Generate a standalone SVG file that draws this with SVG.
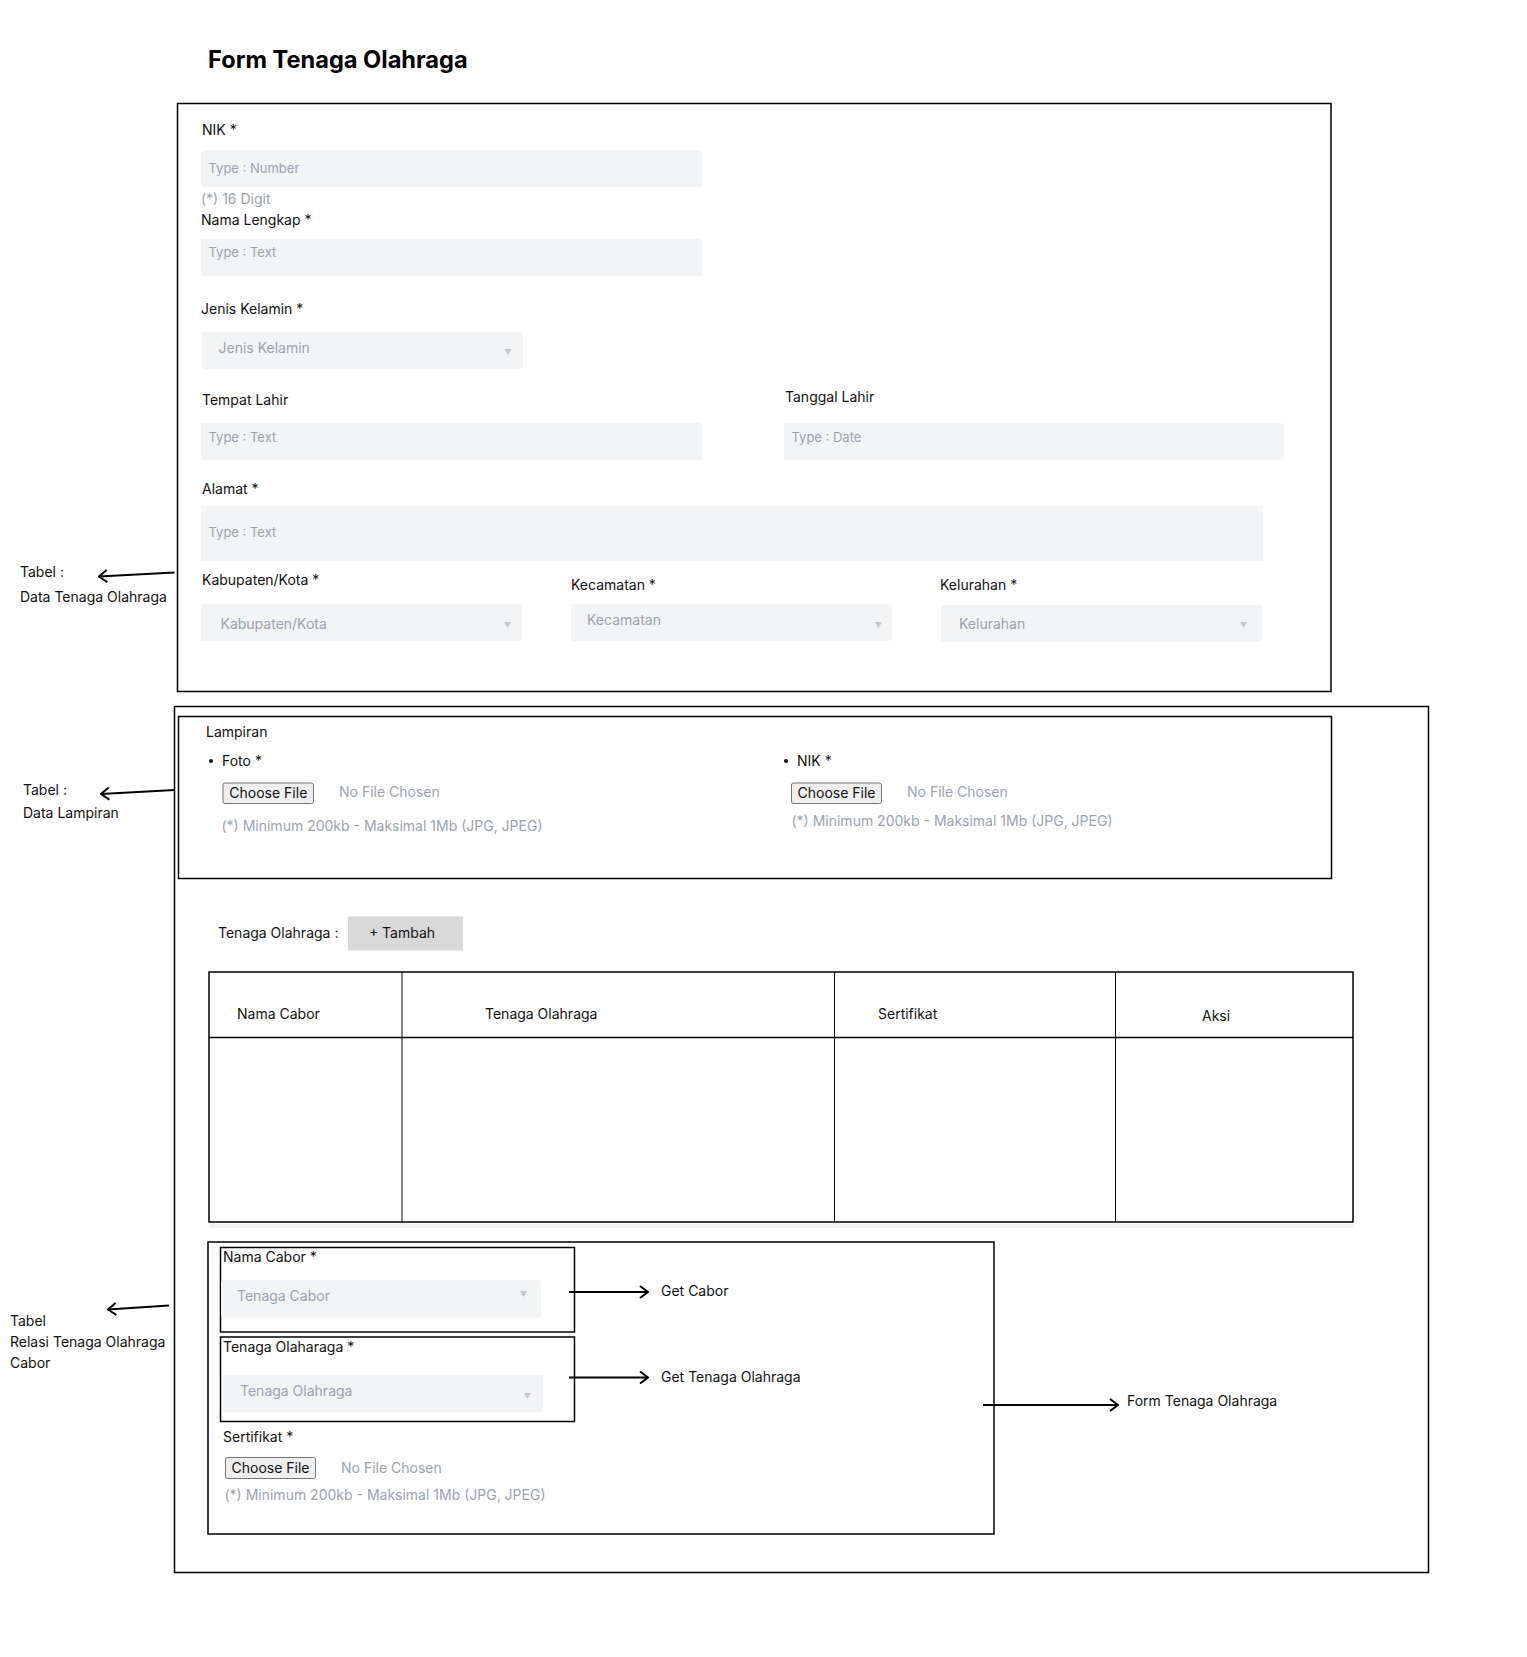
<svg xmlns="http://www.w3.org/2000/svg" width="1527" height="1657" viewBox="0 0 1527 1657">
<style>
text{font-family:Inter,"Noto Sans","Liberation Sans",sans-serif;}
.lbl{font-size:14px;fill:#111;}
.ph{font-size:13px;fill:#9ca3af;}
.sel{font-size:14px;fill:#9ca3af;}
.hint{font-size:14px;fill:#9ca3af;}
.ann{font-size:14px;fill:#111;}
.inp{fill:#f3f4f6;}
.box{fill:none;stroke:#000;stroke-width:1.5;}
.btn{fill:#efefef;stroke:#767676;stroke-width:1;}
.btxt{font-size:14px;fill:#111;text-anchor:middle;}
.caret{fill:#c4c6ca;}
.conn{stroke:#000;stroke-width:2;fill:none;}
.thin{stroke:#000;stroke-width:1;}
</style>
<defs>
<marker id="chev" viewBox="0 0 10 14" refX="9" refY="7" markerWidth="10" markerHeight="14" markerUnits="userSpaceOnUse" orient="auto">
<path d="M1,1 L9,7 L1,13" fill="none" stroke="#000" stroke-width="2"/>
</marker>
</defs>
<rect width="1527" height="1657" fill="#fff"/>

<g id="title">
<text x="208" y="68" style="font-size:23.6px;font-weight:700;fill:#000">Form Tenaga Olahraga</text>
</g>

<g id="form-data-tenaga">
<rect class="box" x="177.5" y="103.5" width="1153.5" height="588"/>
<text class="lbl" x="202" y="135">NIK *</text>
<rect class="inp" x="201" y="150" width="501" height="37" rx="3"/>
<text class="ph" x="208.5" y="173">Type : Number</text>
<text class="hint" x="201" y="204">(*) 16 Digit</text>
<text class="lbl" x="201" y="225">Nama Lengkap *</text>
<rect class="inp" x="201" y="239" width="501" height="37" rx="3"/>
<text class="ph" x="208.5" y="257">Type : Text</text>
<text class="lbl" x="201" y="314">Jenis Kelamin *</text>
<rect class="inp" x="202" y="332" width="321" height="37" rx="3"/>
<text class="sel" x="218.5" y="353">Jenis Kelamin</text>
<polygon class="caret" points="504.5,349 511.5,349 508,355"/>
<text class="lbl" x="202" y="405">Tempat Lahir</text>
<rect class="inp" x="201" y="423" width="501" height="37" rx="3"/>
<text class="ph" x="208.5" y="442">Type : Text</text>
<text class="lbl" x="785" y="402">Tanggal Lahir</text>
<rect class="inp" x="784" y="423" width="500" height="37" rx="3"/>
<text class="ph" x="791.5" y="442">Type : Date</text>
<text class="lbl" x="202" y="494">Alamat *</text>
<rect class="inp" x="201" y="506" width="1062" height="55" rx="3"/>
<text class="ph" x="208.5" y="537">Type : Text</text>
<text class="lbl" x="202" y="585">Kabupaten/Kota *</text>
<rect class="inp" x="201" y="604" width="321" height="37" rx="3"/>
<text class="sel" x="220.5" y="629">Kabupaten/Kota</text>
<polygon class="caret" points="504,622 511,622 507.5,628"/>
<text class="lbl" x="571" y="590">Kecamatan *</text>
<rect class="inp" x="571" y="604" width="321" height="37" rx="3"/>
<text class="sel" x="587" y="625">Kecamatan</text>
<polygon class="caret" points="875,622 882,622 878.5,628"/>
<text class="lbl" x="940" y="590">Kelurahan *</text>
<rect class="inp" x="941" y="605" width="321" height="37" rx="3"/>
<text class="sel" x="959" y="629">Kelurahan</text>
<polygon class="caret" points="1240,622 1247,622 1243.5,628"/>
</g>

<g id="form-detail">
<rect class="box" x="174.5" y="706.5" width="1254" height="866"/>
</g>

<g id="lampiran">
<rect class="box" x="178.5" y="716.5" width="1153" height="162"/>
<text class="lbl" x="206" y="737">Lampiran</text>
<circle cx="211" cy="761" r="2" fill="#111"/>
<text class="lbl" x="222" y="766">Foto *</text>
<rect class="btn" x="223" y="783" width="90.5" height="20.5" rx="2"/>
<text class="btxt" x="268.3" y="798">Choose File</text>
<text class="hint" x="339" y="797">No File Chosen</text>
<text class="hint" x="221.5" y="831">(*) Minimum 200kb - Maksimal 1Mb (JPG, JPEG)</text>
<circle cx="786" cy="761" r="2" fill="#111"/>
<text class="lbl" x="797" y="766">NIK *</text>
<rect class="btn" x="791.5" y="783" width="90" height="20.5" rx="2"/>
<text class="btxt" x="836.5" y="798">Choose File</text>
<text class="hint" x="907" y="797">No File Chosen</text>
<text class="hint" x="791.5" y="826">(*) Minimum 200kb - Maksimal 1Mb (JPG, JPEG)</text>
</g>

<g id="tambah">
<text class="lbl" x="218" y="938">Tenaga Olahraga :</text>
<rect x="348" y="916.5" width="115" height="34" fill="#d9d9d9"/>
<text class="btxt" x="402" y="938">+ Tambah</text>
</g>

<g id="tabel">
<rect x="210" y="1224" width="1144" height="4" fill="#f2f2f2"/>
<rect class="box" x="209" y="972" width="1144" height="250" fill="#fff"/>
<line x1="209" y1="1037.5" x2="1353" y2="1037.5" stroke="#000" stroke-width="1.5"/>
<line class="thin" x1="402" y1="972" x2="402" y2="1222"/>
<line class="thin" x1="834.5" y1="972" x2="834.5" y2="1222"/>
<line class="thin" x1="1115.5" y1="972" x2="1115.5" y2="1222"/>
<text class="lbl" x="237" y="1019">Nama Cabor</text>
<text class="lbl" x="485" y="1019">Tenaga Olahraga</text>
<text class="lbl" x="878" y="1019">Sertifikat</text>
<text class="lbl" x="1202" y="1021">Aksi</text>
</g>

<g id="form-relasi">
<rect class="box" x="208" y="1242" width="786" height="292"/>
</g>

<g id="nama-cabor">
<rect class="box" x="220.5" y="1247.5" width="354" height="84.5"/>
<text class="lbl" x="223" y="1262">Nama Cabor *</text>
<rect class="inp" x="221" y="1280" width="320" height="37.5" rx="3"/>
<text class="sel" x="237" y="1301">Tenaga Cabor</text>
<polygon class="caret" points="520,1291 527,1291 523.5,1297"/>
</g>

<g id="tenaga-olahraga-field">
<rect class="box" x="220.5" y="1337" width="354" height="84.5"/>
<text class="lbl" x="223" y="1352">Tenaga Olaharaga *</text>
<rect class="inp" x="223" y="1375" width="320" height="37.5" rx="3"/>
<text class="sel" x="240" y="1396">Tenaga Olahraga</text>
<polygon class="caret" points="524,1393 531,1393 527.5,1399"/>
</g>

<g id="sertifikat-field">
<text class="lbl" x="223" y="1442">Sertifikat *</text>
<rect class="btn" x="225.5" y="1457.5" width="90" height="21" rx="2"/>
<text class="btxt" x="270.5" y="1473">Choose File</text>
<text class="hint" x="341" y="1473">No File Chosen</text>
<text class="hint" x="224.5" y="1500">(*) Minimum 200kb - Maksimal 1Mb (JPG, JPEG)</text>
</g>

<g id="ann-data-tenaga">
<text class="ann" x="20" y="577">Tabel :</text>
<text class="ann" x="20" y="602">Data Tenaga Olahraga</text>
</g>
<g id="ann-lampiran">
<text class="ann" x="23" y="795">Tabel :</text>
<text class="ann" x="23" y="818">Data Lampiran</text>
</g>
<g id="ann-relasi">
<text class="ann" x="10" y="1326">Tabel</text>
<text class="ann" x="10" y="1347">Relasi Tenaga Olahraga</text>
<text class="ann" x="10" y="1368">Cabor</text>
</g>
<g id="get-cabor"><text class="ann" x="661" y="1296">Get Cabor</text></g>
<g id="get-tenaga"><text class="ann" x="661" y="1382">Get Tenaga Olahraga</text></g>
<g id="form-tenaga-label"><text class="ann" x="1127" y="1406">Form Tenaga Olahraga</text></g>

<g id="connectors">
<line class="conn" x1="174.5" y1="572.5" x2="99" y2="576.5" marker-end="url(#chev)"/>
<line class="conn" x1="174.5" y1="790" x2="101" y2="794" marker-end="url(#chev)"/>
<line class="conn" x1="169" y1="1305.5" x2="108" y2="1309.5" marker-end="url(#chev)"/>
<line class="conn" x1="569" y1="1292" x2="648" y2="1292" marker-end="url(#chev)"/>
<line class="conn" x1="569" y1="1377.5" x2="648" y2="1377.5" marker-end="url(#chev)"/>
<line class="conn" x1="983" y1="1405" x2="1118" y2="1405" marker-end="url(#chev)"/>
</g>
</svg>
